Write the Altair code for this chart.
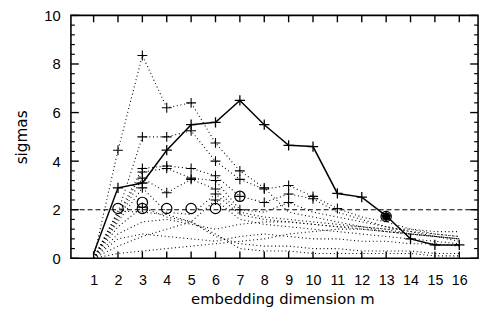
import altair as alt
import pandas as pd

# ---------------- data ----------------
m = list(range(1, 17))

solid = [0.2, 2.9, 3.1, 4.45, 5.5, 5.6, 6.5, 5.5, 4.65, 4.6, 2.67, 2.52, 1.75, 0.8, 0.55, 0.55]

s1 = [0.0, 4.45, 8.35, 6.2, 6.4, 4.75, 3.6, 2.9, 1.9, 1.7, 1.5, 1.3, 1.1, 1.0, 0.9, 0.8]
s2 = [0.0, 1.9, 5.0, 5.0, 5.25, 4.0, 3.25, 2.85, 3.0, 2.55, 2.05, 1.7, 1.5, 1.2, 1.0, 0.9]
s3 = [0.0, 1.8, 3.7, 3.8, 3.7, 3.4, 2.55, 2.3, 2.65, 2.45, 1.9, 1.6, 1.3, 1.1, 1.0, 0.9]
s4 = [0.0, 1.7, 3.55, 3.7, 3.3, 3.2, 2.0, 1.9, 2.3, 1.9, 1.7, 1.5, 1.3, 1.1, 0.9, 0.8]
s5 = [0.0, 1.6, 3.3, 2.7, 3.25, 2.85, 1.9, 1.7, 1.6, 1.5, 1.4, 1.3, 1.2, 1.0, 0.9, 0.7]
s6 = [0.0, 1.5, 2.9, 1.9, 1.8, 2.65, 1.8, 1.6, 1.5, 1.4, 1.3, 1.2, 1.1, 1.0, 0.9, 0.8]
s7 = [0.0, 1.3, 2.1, 1.7, 1.5, 2.4, 1.6, 1.4, 1.3, 1.2, 1.1, 1.0, 0.9, 0.8, 0.7, 0.6]
s8 = [0.0, 1.95, 1.9, 1.8, 1.5, 0.9, 0.6, 0.5, 0.5, 0.4, 0.4, 0.3, 0.3, 0.3, 0.2, 0.2]
s9 = [0.0, 0.5, 0.9, 1.2, 1.5, 1.0, 0.4, 0.3, 0.3, 0.2, 0.2, 0.2, 0.2, 0.2, 0.1, 0.1]
s10 = [0.0, 0.2, 0.3, 0.4, 0.5, 0.6, 0.7, 0.8, 1.0, 1.1, 1.2, 1.2, 1.1, 1.0, 0.9, 0.8]
s11 = [0.0, 1.0, 1.5, 1.6, 1.4, 1.2, 1.4, 1.5, 1.5, 1.4, 1.3, 1.3, 1.2, 1.2, 1.1, 1.1]
s12 = [0.0, 0.8, 1.0, 0.9, 0.8, 0.7, 0.9, 1.0, 0.9, 0.8, 0.8, 0.7, 0.7, 0.6, 0.6, 0.5]

dotted_names = ["s1", "s2", "s3", "s4", "s5", "s6", "s7", "s8", "s9", "s10", "s11", "s12"]
dotted_values = [s1, s2, s3, s4, s5, s6, s7, s8, s9, s10, s11, s12]

circle_m = [2, 3, 3, 4, 5, 6, 7, 13]
circle_v = [2.05, 2.3, 2.05, 2.05, 2.05, 2.05, 2.55, 1.72]

dark_circle_m = [13]
dark_circle_v = [1.72]

threshold = 2.0

x_ticks = m
y_major = [0, 2, 4, 6, 8, 10]
y_minor = [0.4, 0.8, 1.2, 1.6, 2.4, 2.8, 3.2, 3.6, 4.4, 4.8, 5.2, 5.6,
           6.4, 6.8, 7.2, 7.6, 8.4, 8.8, 9.2, 9.6]

# ---------------- tables ----------------
rows = []
for name, vals in zip(dotted_names, dotted_values):
    for mi, v in zip(m, vals):
        rows.append({"series": name, "m": mi, "v": v})
dotted_df = pd.DataFrame(rows)
solid_df = pd.DataFrame({"m": m, "v": solid})
circ_df = pd.DataFrame({"m": circle_m, "v": circle_v})
dark_df = pd.DataFrame({"m": dark_circle_m, "v": dark_circle_v})
xt_df = pd.DataFrame({"m": x_ticks})
ymaj_df = pd.DataFrame({"v": y_major})
ymin_df = pd.DataFrame({"v": y_minor})

W, H = 414, 247
FONT = "Liberation Sans"
TFONT = "DejaVu Sans"
PLUS = "M-1,0L1,0M0,-1L0,1"

xscale = alt.Scale(domain=[0.07, 16.77], nice=False, zero=False)
yscale = alt.Scale(domain=[0, 10], nice=False)

xaxis = alt.Axis(values=x_ticks, title="embedding dimension m", grid=False,
                 ticks=False, tickSize=0, domain=False, labelPadding=16,
                 labelFontSize=14.5, titleFontSize=15, titleFontWeight="normal",
                 labelFont=FONT, titleFont=TFONT, labelColor="black",
                 titleColor="black", labelFlush=False,
                 titleBaseline="alphabetic", titleY=45.5, titleX=215)
yaxis = alt.Axis(values=y_major, title="sigmas", grid=False, ticks=False,
                 tickSize=0, domain=False, labelPadding=11,
                 labelFontSize=15, titleFontSize=15.5, titleFontWeight="normal",
                 labelFont=FONT, titleFont=TFONT, labelColor="black",
                 titleColor="black", titleBaseline="middle", titleX=-50)
X = alt.X("m:Q", scale=xscale, axis=xaxis, title="embedding dimension m")
Y = alt.Y("v:Q", scale=yscale, axis=yaxis, title="sigmas")

dotted_lines = alt.Chart(dotted_df).mark_line(
    color="black", strokeWidth=1.1, strokeDash=[1, 2.8]
).encode(x=X, y=Y, detail="series:N")

dotted_plus = alt.Chart(dotted_df).transform_filter(
    f"datum.v >= {threshold}"
).mark_point(shape=PLUS, filled=False, color="black", size=100, strokeWidth=1.1, opacity=1).encode(
    x=X, y=Y)

dash_rule = alt.Chart(pd.DataFrame({"v": [threshold]})).mark_rule(
    color="black", strokeWidth=1.1, strokeDash=[5, 3]
).encode(y=Y)

solid_line = alt.Chart(solid_df).mark_line(color="black", strokeWidth=1.5).encode(x=X, y=Y)
solid_plus = alt.Chart(solid_df).transform_filter("datum.m >= 2").mark_point(
    shape=PLUS, filled=False, color="black", size=110, strokeWidth=1.3, opacity=1
).encode(x=X, y=Y)

circles = alt.Chart(circ_df).mark_point(
    shape="circle", filled=False, color="black", size=110, strokeWidth=1.2, opacity=1
).encode(x=X, y=Y)

dark_circles = alt.Chart(dark_df).mark_point(
    shape="circle", filled=True, color="black", size=70, opacity=1
).encode(x=X, y=Y)

tick_bottom = alt.Chart(xt_df).mark_rule(color="black", strokeWidth=1.4).encode(
    x=X, y=alt.value(H), y2=alt.value(H - 7))
tick_top = alt.Chart(xt_df).mark_rule(color="black", strokeWidth=1.4).encode(
    x=X, y=alt.value(0), y2=alt.value(7))
tick_left_maj = alt.Chart(ymaj_df).mark_rule(color="black", strokeWidth=1.4).encode(
    y=Y, x=alt.value(0), x2=alt.value(8))
tick_left_min = alt.Chart(ymin_df).mark_rule(color="black", strokeWidth=1.2).encode(
    y=Y, x=alt.value(0), x2=alt.value(4))
tick_right_maj = alt.Chart(ymaj_df).mark_rule(color="black", strokeWidth=1.4).encode(
    y=Y, x=alt.value(W), x2=alt.value(W - 8))
tick_right_min = alt.Chart(ymin_df).mark_rule(color="black", strokeWidth=1.2).encode(
    y=Y, x=alt.value(W), x2=alt.value(W - 4))

chart = alt.layer(
    dotted_lines, dotted_plus, dash_rule, solid_line, solid_plus, circles, dark_circles,
    tick_bottom, tick_top, tick_left_maj, tick_left_min, tick_right_maj, tick_right_min
).properties(
    width=W, height=H,
    padding={"left": 64, "top": 5, "right": 3, "bottom": 48},
    autosize=alt.AutoSizeParams(type="none"),
    background="white",
).configure_view(stroke="black", strokeWidth=1.6)

chart.save("out.html", embed_options={"renderer": "svg", "actions": False})
